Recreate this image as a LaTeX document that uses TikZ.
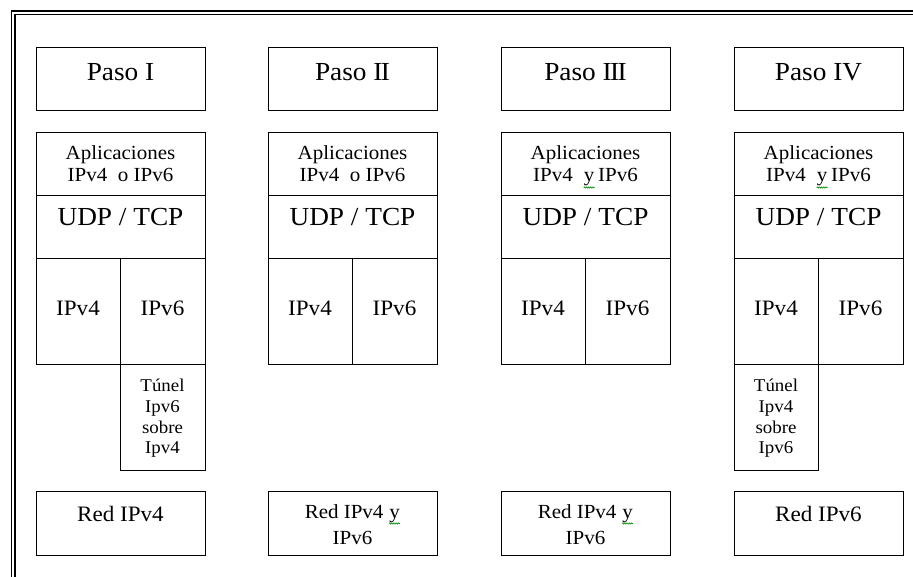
\documentclass[tikz,border=0pt]{standalone}
\usepackage{fontspec}
\setmainfont{Liberation Serif}[FakeStretch=1.05]
\usetikzlibrary{decorations.pathmorphing}
\newcommand\squig[1]{\tikz[baseline=(sq.base)]{\node[inner sep=0,anchor=base](sq){#1};\draw[green!55!black,line width=0.6pt,decorate,decoration={zigzag,amplitude=0.7pt,segment length=2.2pt}] ([yshift=-1pt]sq.south west)--([yshift=-1pt]sq.south east);}}
\newcommand\RII{I\kern-1.6pt I}
\newcommand\RIII{I\kern-1.6pt I\kern-1.6pt I}
\begin{document}
\begin{tikzpicture}[x=1pt,y=-1pt,
  box/.style={draw=black,line width=1.2pt,inner sep=0,anchor=north west},
  txt/.style={inner sep=0,anchor=base,text=black},
  fpaso/.style={font=\fontsize{26}{30}\selectfont},
  fapp/.style={font=\fontsize{20}{22}\selectfont},
  fip/.style={font=\fontsize{22}{26}\selectfont},
  ftun/.style={font=\fontsize{18}{21}\selectfont},
  fred/.style={font=\fontsize{22}{26}\selectfont},
  fredb/.style={font=\fontsize{20}{24}\selectfont}]
\useasboundingbox (0,0) rectangle (913,577);
\fill[white] (0,0) rectangle (913,577);
% outer frame (double line, top and left)
\draw[line width=1.5pt] (11.5,577) -- (11.5,11) -- (913,11);
\draw[line width=1.2pt] (15,577) -- (15,14.5) -- (913,14.5);
% columns
\newcommand\colstack[2]{%
  \node[box,minimum width=169pt,minimum height=63pt] (paso#1) at (#2,47) {};
  \node[box,minimum width=169pt,minimum height=63pt] (app#1) at (#2,132) {};
  \node[box,minimum width=169pt,minimum height=63pt] (udp#1) at (#2,195) {};
  \node[box,minimum width=84pt,minimum height=106pt] (ipa#1) at (#2,258) {};
  \node[box,minimum width=85pt,minimum height=106pt] (ipb#1) at (#2+84,258) {};
  \node[box,minimum width=169pt,minimum height=64pt] (red#1) at (#2,491) {};
  \node[txt,fpaso] (udpt#1) at (#2+84.5,226) {UDP / TCP};
  \node[txt,fip] (ipat#1) at (#2+42,316) {IPv4};
  \node[txt,fip] (ipbt#1) at (#2+126.5,316) {IPv6};
}
\colstack{1}{36}
\colstack{2}{268}
\colstack{3}{501}
\colstack{4}{734}
% tunnels
\node[box,minimum width=85pt,minimum height=106pt] (tun1) at (120,364) {};
\node[box,minimum width=84pt,minimum height=106pt] (tun4) at (734,364) {};
% Paso titles
\node[txt,fpaso] (pt1) at (120.5,81) {Paso I};
\node[txt,fpaso] (pt2) at (352.5,81) {Paso \RII};
\node[txt,fpaso] (pt3) at (585.5,81) {Paso \RIII};
\node[txt,fpaso] (pt4) at (818.5,81) {Paso IV};
% Aplicaciones
\node[txt,fapp] (a1a) at (120.5,160) {Aplicaciones};
\node[txt,fapp] (a1b) at (120.5,182) {IPv4\ \ o IPv6};
\node[txt,fapp] (a2a) at (352.5,160) {Aplicaciones};
\node[txt,fapp] (a2b) at (352.5,182) {IPv4\ \ o IPv6};
\node[txt,fapp] (a3a) at (585.5,160) {Aplicaciones};
\node[txt,fapp] (a3b) at (585.5,182) {IPv4\ \ \squig{y}\,IPv6};
\node[txt,fapp] (a4a) at (818.5,160) {Aplicaciones};
\node[txt,fapp] (a4b) at (818.5,182) {IPv4\ \ \squig{y}\,IPv6};
% tunnel texts
\node[txt,ftun] (t1a) at (162.5,391) {Túnel};
\node[txt,ftun] (t1b) at (162.5,412) {Ipv6};
\node[txt,ftun] (t1c) at (162.5,433) {sobre};
\node[txt,ftun] (t1d) at (162.5,453) {Ipv4};
\node[txt,ftun] (t4a) at (776,391) {Túnel};
\node[txt,ftun] (t4b) at (776,412) {Ipv4};
\node[txt,ftun] (t4c) at (776,433) {sobre};
\node[txt,ftun] (t4d) at (776,453) {Ipv6};
% Red texts
\node[txt,fred] (r1) at (120.5,521) {Red IPv4};
\node[txt,fredb] (r2a) at (352.5,518) {Red IPv4 \squig{y}};
\node[txt,fredb] (r2b) at (352.5,544) {IPv6};
\node[txt,fredb] (r3a) at (585.5,518) {Red IPv4 \squig{y}};
\node[txt,fredb] (r3b) at (585.5,544) {IPv6};
\node[txt,fred] (r4) at (818.5,521) {Red IPv6};
\end{tikzpicture}
\end{document}
